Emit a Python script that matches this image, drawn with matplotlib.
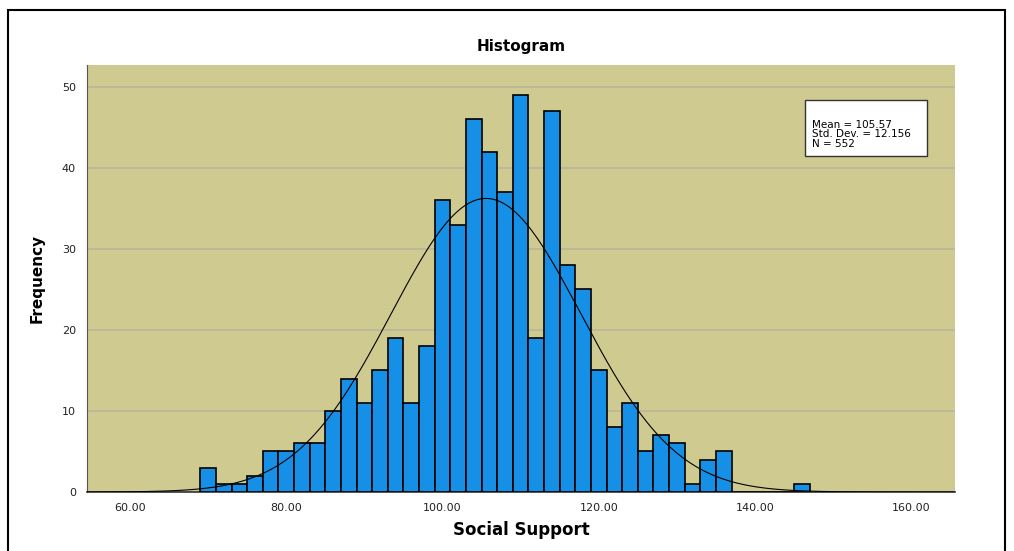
import numpy as np
import matplotlib
matplotlib.use("Agg")
import matplotlib.pyplot as plt
from matplotlib.patches import Rectangle

# histogram bins (width 2) and counts
bin_edges = list(range(69, 149, 2))
counts = [3, 1, 1, 2, 5, 5, 6, 6, 10, 14,
          11, 15, 19, 11, 18, 36, 33, 46, 42, 37,
          49, 19, 47, 28, 25, 15, 8, 11, 5, 7,
          6, 1, 4, 5, 0, 0, 0, 0, 1]
mean = 105.57
std = 12.156
n = 552
xticks = [60, 80, 100, 120, 140, 160]
yticks = [0, 10, 20, 30, 40, 50]

fig = plt.figure(figsize=(10.14, 5.51), dpi=100)
ax = fig.add_axes([87 / 1014, 1 - 492 / 551, (955 - 87) / 1014, (492 - 65) / 551])

# outer frame
fig.patches.append(Rectangle((8 / 1014, -0.1), (1005 - 8) / 1014, 1.1 - 10 / 551,
                             transform=fig.transFigure, fill=False,
                             edgecolor="black", linewidth=1.5))

ax.set_facecolor("#cfca8f")
ax.bar(bin_edges[:-1], counts, width=2, align="edge", color="#1590e6",
       edgecolor="black", linewidth=1.2, zorder=3)

xs = np.linspace(54, 166, 400)
pdf = n * 2 / (std * np.sqrt(2 * np.pi)) * np.exp(-0.5 * ((xs - mean) / std) ** 2)
ax.plot(xs, pdf, color="black", linewidth=0.8, zorder=4)

ax.set_xlim(54.5, 165.6)
ax.set_ylim(0, 52.7)
ax.set_xticks(xticks)
ax.set_xticklabels(["%.2f" % v for v in xticks])
ax.set_yticks(yticks)
ax.tick_params(length=0, labelsize=8, colors="#222222", pad=8)
ax.yaxis.grid(True, color="#bab69a", linewidth=1.2, zorder=1)
ax.set_axisbelow(True)
for s in ["top", "right"]:
    ax.spines[s].set_visible(False)
ax.spines["left"].set_color("#555555")
ax.spines["bottom"].set_color("#333333")
ax.spines["bottom"].set_linewidth(1.2)

ax.set_title("Histogram", fontsize=11, fontweight="bold", pad=10)
ax.set_xlabel("Social Support", fontsize=12, fontweight="bold", labelpad=6)
ax.set_ylabel("Frequency", fontsize=11, fontweight="bold", labelpad=12)

# stats box
ax.add_patch(Rectangle((0.827, 0.787), 0.141, 0.131, transform=ax.transAxes,
                       facecolor="white", edgecolor="#333333", linewidth=1.0, zorder=5))
ax.text(0.835, 0.838, "Mean = %.2f\nStd. Dev. = %.3f\nN = %d" % (mean, std, n),
        transform=ax.transAxes, fontsize=7.5, va="center", ha="left",
        linespacing=0.95, zorder=6)

fig.savefig("out.png", dpi=100)
